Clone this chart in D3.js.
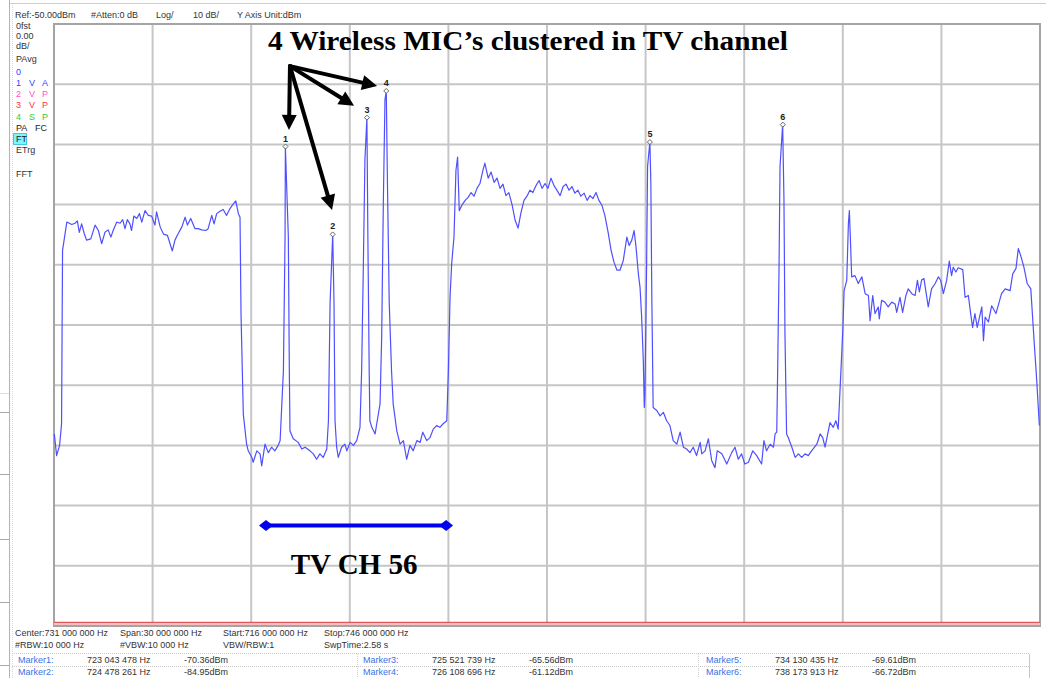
<!DOCTYPE html>
<html>
<head>
<meta charset="utf-8">
<script src="https://cdn.jsdelivr.net/npm/d3@7"></script>
<style>
body { margin: 0; background: #fff; }
svg { display: block; font-family: "Liberation Sans", Arial, sans-serif; }
</style>
</head>
<body>
<svg id="svg"></svg>
<script>
// trace: frequency (MHz) and level (dBm)
const freqMHz = [
	716.01, 716.08, 716.17, 716.23, 716.26, 716.39, 716.54, 716.64, 716.71, 716.77, 716.84, 716.92, 716.99, 717.12, 717.25, 717.35,
	717.45, 717.55, 717.65, 717.73, 717.80, 717.91, 718.01, 718.09, 718.16, 718.23, 718.31, 718.36, 718.43, 718.52, 718.60, 718.67,
	718.77, 718.87, 718.97, 719.07, 719.12, 719.23, 719.33, 719.45, 719.60, 719.68, 719.78, 719.89, 719.99, 720.06, 720.16, 720.29,
	720.39, 720.49, 720.62, 720.69, 720.80, 720.87, 720.95, 721.05, 721.15, 721.25, 721.35, 721.44, 721.53, 721.61, 721.66, 721.69,
	721.76, 721.86, 721.91, 722.02, 722.06, 722.17, 722.27, 722.32, 722.42, 722.52, 722.62, 722.72, 722.82, 722.88, 722.98, 723.03,
	723.04, 723.13, 723.16, 723.18, 723.28, 723.43, 723.54, 723.64, 723.79, 723.89, 723.99, 724.09, 724.19, 724.30, 724.35, 724.40,
	724.48, 724.52, 724.55, 724.60, 724.65, 724.75, 724.85, 724.91, 725.01, 725.11, 725.21, 725.31, 725.36, 725.41, 725.46, 725.52,
	725.55, 725.59, 725.61, 725.67, 725.77, 725.82, 725.92, 725.97, 726.02, 726.07, 726.11, 726.14, 726.20, 726.27, 726.32, 726.43,
	726.53, 726.63, 726.73, 726.83, 726.93, 727.04, 727.14, 727.22, 727.34, 727.44, 727.54, 727.64, 727.74, 727.84, 727.95, 728.00,
	728.05, 728.10, 728.17, 728.23, 728.28, 728.33, 728.41, 728.51, 728.60, 728.69, 728.78, 728.87, 728.96, 729.05, 729.11, 729.21,
	729.30, 729.39, 729.48, 729.57, 729.66, 729.75, 729.84, 729.94, 730.03, 730.12, 730.21, 730.30, 730.39, 730.48, 730.57, 730.67,
	730.76, 730.85, 730.94, 731.03, 731.12, 731.21, 731.30, 731.40, 731.49, 731.58, 731.67, 731.76, 731.85, 731.94, 732.03, 732.13,
	732.22, 732.31, 732.40, 732.49, 732.58, 732.67, 732.76, 732.86, 732.95, 733.04, 733.13, 733.22, 733.32, 733.43, 733.50, 733.58,
	733.65, 733.71, 733.78, 733.83, 733.88, 733.93, 733.96, 733.98, 734.03, 734.06, 734.13, 734.16, 734.19, 734.23, 734.34, 734.44,
	734.54, 734.64, 734.74, 734.84, 734.95, 735.05, 735.15, 735.25, 735.35, 735.45, 735.55, 735.66, 735.71, 735.81, 735.91, 736.01,
	736.11, 736.18, 736.32, 736.47, 736.62, 736.72, 736.82, 736.92, 737.02, 737.13, 737.26, 737.38, 737.53, 737.60, 737.68, 737.79,
	737.89, 737.94, 737.99, 738.02, 738.06, 738.09, 738.17, 738.21, 738.24, 738.29, 738.34, 738.45, 738.55, 738.65, 738.75, 738.85,
	738.95, 739.05, 739.21, 739.31, 739.39, 739.46, 739.61, 739.71, 739.79, 739.86, 739.92, 740.00, 740.04, 740.12, 740.17, 740.20,
	740.24, 740.27, 740.37, 740.47, 740.58, 740.68, 740.78, 740.83, 740.91, 740.98, 741.08, 741.11, 741.18, 741.28, 741.38, 741.49,
	741.59, 741.64, 741.74, 741.82, 741.92, 741.99, 742.10, 742.20, 742.27, 742.33, 742.40, 742.47, 742.53, 742.60, 742.70, 742.81,
	742.91, 742.98, 743.06, 743.16, 743.24, 743.31, 743.36, 743.44, 743.51, 743.65, 743.72, 743.82, 743.89, 743.95, 744.02, 744.09,
	744.23, 744.28, 744.33, 744.43, 744.53, 744.66, 744.83, 744.94, 745.09, 745.17, 745.27, 745.34, 745.42, 745.51, 745.61, 745.72,
	745.80, 745.90, 745.98
]
const levelDbm = [
	-118.1, -121.7, -120.0, -116.4, -87.6, -82.9, -83.3, -83.1, -82.7, -84.6, -83.2, -84.8, -85.9, -85.7, -83.4, -84.3,
	-86.5, -84.6, -84.2, -85.4, -84.3, -82.9, -83.1, -82.5, -84.0, -82.5, -83.2, -84.3, -81.9, -82.3, -81.5, -82.9,
	-81.0, -81.8, -81.9, -83.4, -81.2, -83.7, -84.9, -85.1, -87.7, -85.9, -84.8, -83.7, -82.1, -83.4, -82.3, -84.0,
	-84.0, -84.2, -84.3, -84.0, -81.8, -83.2, -81.5, -81.1, -80.8, -81.8, -80.7, -80.0, -79.4, -81.5, -82.1, -98.1,
	-114.8, -119.8, -120.9, -122.0, -122.8, -120.9, -121.4, -123.4, -119.8, -121.2, -120.3, -120.9, -120.0, -119.2, -107.6, -85.4,
	-70.36, -85.4, -107.6, -117.6, -118.9, -119.5, -120.6, -120.3, -120.9, -121.4, -122.3, -121.4, -122.0, -120.6, -115.9, -96.4,
	-84.95, -96.4, -115.9, -120.3, -122.0, -120.3, -119.8, -120.9, -119.5, -120.0, -119.2, -117.0, -107.6, -90.9, -72.6, -65.56,
	-85.4, -107.6, -115.9, -117.0, -118.1, -116.4, -113.1, -102.0, -79.8, -62.6, -61.12, -74.3, -96.4, -107.6, -113.1, -117.6,
	-119.8, -119.2, -122.3, -120.0, -120.9, -119.2, -119.5, -117.8, -119.2, -118.7, -117.3, -116.7, -117.0, -116.4, -115.9, -107.6,
	-95.4, -89.8, -85.4, -74.3, -72.1, -81.0, -80.1, -79.3, -78.8, -78.0, -78.6, -77.3, -76.5, -74.3, -73.1, -75.6,
	-74.6, -76.3, -75.6, -77.3, -76.6, -78.5, -78.0, -80.1, -82.6, -83.9, -81.3, -79.3, -78.6, -77.6, -78.0, -76.8,
	-76.0, -77.3, -76.5, -77.3, -75.6, -76.8, -77.6, -78.5, -77.0, -76.6, -77.6, -77.0, -78.1, -77.6, -78.6, -78.1,
	-79.3, -78.5, -79.0, -78.0, -79.3, -80.1, -81.8, -84.6, -87.6, -89.6, -90.9, -90.9, -89.3, -85.4, -86.8, -85.9,
	-84.3, -87.1, -91.5, -93.7, -98.7, -105.9, -113.7, -111.4, -90.4, -73.7, -69.61, -76.5, -95.9, -113.7, -114.2, -115.1,
	-114.5, -115.9, -116.7, -119.2, -119.8, -117.8, -120.3, -120.6, -121.2, -120.3, -121.7, -119.5, -121.4, -120.9, -118.9, -122.5,
	-123.7, -120.9, -121.4, -123.1, -121.2, -120.3, -122.3, -121.4, -123.1, -122.8, -120.9, -121.7, -123.1, -119.2, -120.9, -119.8,
	-120.3, -118.1, -117.8, -107.0, -90.4, -73.7, -66.72, -79.3, -101.4, -118.1, -118.7, -120.3, -122.0, -121.4, -122.0, -121.4,
	-121.7, -120.9, -119.8, -118.1, -118.7, -120.3, -116.2, -117.0, -115.9, -117.3, -110.3, -100.9, -94.3, -92.6, -83.2, -81.0,
	-87.1, -92.0, -91.8, -93.1, -92.0, -94.8, -95.1, -99.3, -95.1, -98.1, -97.0, -99.0, -95.9, -96.2, -97.0, -96.2,
	-96.5, -97.9, -95.4, -97.9, -95.1, -94.0, -94.8, -95.1, -92.6, -94.5, -92.5, -92.3, -94.5, -97.0, -94.0, -93.1,
	-92.0, -92.6, -94.8, -92.6, -89.4, -91.8, -90.4, -91.2, -90.5, -90.8, -95.4, -95.1, -98.1, -100.4, -98.1, -100.4,
	-97.0, -102.6, -98.7, -99.5, -96.8, -98.1, -94.8, -94.0, -94.3, -91.5, -90.6, -87.3, -88.6, -90.4, -93.1, -94.0,
	-100.9, -109.2, -116.7
]

const markerNames = ['1', '2', '3', '4', '5', '6']
const markerHz = [723043478, 724478261, 725521739, 726108696, 734130435, 738173913]
const markerDbm = [-70.36, -84.95, -65.56, -61.12, -69.61, -66.72]

const gridMHz = [719, 722, 725, 728, 731, 734, 737, 740, 743]
const gridDbm = [-60, -70, -80, -90, -100, -110, -120, -130, -140]

const headerItems = ['Ref:-50.00dBm', '#Atten:0 dB', 'Log/', '10 dB/', 'Y Axis Unit:dBm']
const infoRow1 = ['Center:731 000 000 Hz', 'Span:30 000 000 Hz', 'Start:716 000 000 Hz', 'Stop:746 000 000 Hz']
const infoRow2 = ['#RBW:10 000 Hz', '#VBW:10 000 Hz', 'VBW/RBW:1', 'SwpTime:2.58 s']
const sideRows = [['0fst'], ['0.00'], ['dB/'], ['PAvg'], ['0'], ['1', 'V', 'A'], ['2', 'V', 'P'], ['3', 'V', 'P'], ['4', 'S', 'P'], ['PA', 'FC'], ['FT'], ['ETrg'], ['FFT']]
const sideColors = ['#333', '#333', '#333', '#333', '#3344ff', '#3344ff', '#ff55cc', '#ff3344', '#33cc33', '#222', '#222', '#333', '#333']

// annotations (in chart units)
const titleText = '4 Wireless MIC\u2019s clustered in TV channel'
const arrowFromMHz = 723.18, arrowFromDbm = -57.0
const arrowToMHz = [723.15, 724.46, 725.13, 725.83]
const arrowToDbm = [-67.6, -80.9, -63.6, -60.3]
const tvChMHz = [722.45, 727.93]
const tvChDbm = -133.3
const tvChLabel = 'TV CH 56'

const doIt = () => {
	let w = 1049
	let h = 678

	let svg = d3.select('#svg').attr('width', w).attr('height', h)

	let x = d3.scaleLinear().domain([716, 746]).range([54, 1040])
	let y = d3.scaleLinear().domain([-50, -150]).range([24, 626])

	// window chrome
	svg.append('line').attr('x1', 9.5).attr('x2', 9.5).attr('y1', 0).attr('y2', h).attr('stroke', '#b4b4b4')
	svg.append('line').attr('x1', 12.5).attr('x2', 12.5).attr('y1', 3).attr('y2', h).attr('stroke', '#d8d8d8').attr('stroke-dasharray', '1,1')
	svg.append('line').attr('x1', 10).attr('x2', 1046).attr('y1', 3.5).attr('y2', 3.5).attr('stroke', '#cfcfcf')
	;[393, 412, 474, 539, 602, 665].forEach(yy => {
		svg.append('line').attr('x1', 0).attr('x2', 9).attr('y1', yy + 0.5).attr('y2', yy + 0.5).attr('stroke', yy === 393 ? '#dcdcdc' : '#a8a8a8')
	})

	// header
	svg.append('g').selectAll('text').data(headerItems).enter().append('text')
		.attr('x', (d, i) => [15, 91, 156, 193, 237][i]).attr('y', 18)
		.attr('font-size', 9).attr('fill', '#333').text(d => d)

	// sidebar
	let sideY = [29, 39, 49, 62, 75, 86, 97, 108, 120, 131, 142, 153, 177]
	let sideX = [16, 29, 42]
	svg.append('rect').attr('x', 13.5).attr('y', sideY[10] - 8.5).attr('width', 13).attr('height', 11)
		.attr('fill', '#7ff4ff').attr('stroke', '#44c8dd')
	sideRows.forEach((row, i) => {
		row.forEach((t, j) => {
			svg.append('text').attr('x', row.length === 2 ? [16, 35][j] : sideX[j]).attr('y', sideY[i])
				.attr('font-size', 9).attr('fill', sideColors[i]).text(t)
		})
	})

	// grid + frame
	let grid = svg.append('g')
	grid.selectAll('.gx').data(gridMHz).enter().append('line')
		.attr('x1', d => x(d)).attr('x2', d => x(d)).attr('y1', y(-50)).attr('y2', y(-150))
		.attr('stroke', '#c6c6c6').attr('stroke-width', 2)
	grid.selectAll('.gy').data(gridDbm).enter().append('line')
		.attr('x1', x(716)).attr('x2', x(746)).attr('y1', d => y(d)).attr('y2', d => y(d))
		.attr('stroke', '#c6c6c6').attr('stroke-width', 2)
	svg.append('rect').attr('x', x(716)).attr('y', y(-50)).attr('width', x(746) - x(716)).attr('height', y(-150) - y(-50))
		.attr('fill', 'none').attr('stroke', '#a4a4a4').attr('stroke-width', 2)

	// red limit line near bottom
	svg.append('line').attr('x1', x(716)).attr('x2', x(746)).attr('y1', y(-149.4) + 1.5).attr('y2', y(-149.4) + 1.5)
		.attr('stroke', '#f6c0c0').attr('stroke-width', 2)
	svg.append('line').attr('x1', x(716)).attr('x2', x(746)).attr('y1', y(-149.4)).attr('y2', y(-149.4))
		.attr('stroke', '#e05a5a').attr('stroke-width', 1.2)

	// trace
	let pts = freqMHz.map((f, i) => [f, levelDbm[i]])
	let lineMkr = d3.line().x(d => x(d[0])).y(d => y(d[1]))
	svg.append('path').datum(pts).attr('d', lineMkr)
		.attr('fill', 'none').attr('stroke', '#4f4fff').attr('stroke-width', 1.2).attr('stroke-linejoin', 'round')

	// markers
	let mk = svg.append('g').selectAll('g').data(markerNames).enter().append('g')
		.attr('transform', (d, i) => `translate(${x(markerHz[i] / 1e6)},${y(markerDbm[i])})`)
	mk.append('path').attr('d', 'M0,-2.5L2.5,0L0,2.5L-2.5,0Z').attr('fill', '#fff').attr('stroke', '#555').attr('stroke-width', 0.9)
	mk.append('text').attr('y', -5).attr('text-anchor', 'middle').attr('font-size', 9).attr('font-weight', 'bold')
		.attr('fill', '#222').text(d => d)

	// title
	svg.append('text').attr('x', 268).attr('y', 50)
		.attr('font-family', '"Liberation Serif", "Times New Roman", serif').attr('font-weight', 'bold')
		.attr('font-size', 28).attr('textLength', 520).attr('lengthAdjust', 'spacingAndGlyphs')
		.attr('fill', '#000').text(titleText)

	// black arrows to the mics
	let ax = x(arrowFromMHz), ay = y(arrowFromDbm)
	arrowToMHz.forEach((f, i) => {
		let tx = x(f), ty = y(arrowToDbm[i])
		let dx = tx - ax, dy = ty - ay, len = Math.hypot(dx, dy)
		let ux = dx / len, uy = dy / len
		let hl = 15, hw = 7.5
		let bx = tx - ux * hl, by = ty - uy * hl
		svg.append('line').attr('x1', ax).attr('y1', ay).attr('x2', bx + ux * 1).attr('y2', by + uy * 1)
			.attr('stroke', '#000').attr('stroke-width', 4).attr('stroke-linecap', 'round')
		svg.append('path')
			.attr('d', `M${tx},${ty}L${bx - uy * hw},${by + ux * hw}L${bx + uy * hw},${by - ux * hw}Z`)
			.attr('fill', '#000')
	})

	// TV channel span
	let x1 = x(tvChMHz[0]), x2 = x(tvChMHz[1]), yy = y(tvChDbm)
	svg.append('line').attr('x1', x1).attr('x2', x2).attr('y1', yy).attr('y2', yy).attr('stroke', '#0000f0').attr('stroke-width', 4)
	;[x1, x2].forEach(cx => {
		svg.append('path').attr('d', `M${cx - 7},${yy}L${cx},${yy - 5.5}L${cx + 7},${yy}L${cx},${yy + 5.5}Z`).attr('fill', '#0000f0')
	})
	svg.append('text').attr('x', (x1 + x2) / 2 - 2).attr('y', y(-141.3))
		.attr('text-anchor', 'middle')
		.attr('font-family', '"Liberation Serif", "Times New Roman", serif').attr('font-weight', 'bold')
		.attr('font-size', 29).attr('fill', '#000').text(tvChLabel)

	// sweep info
	let infoX = [15, 120, 223, 324]
	;[infoRow1, infoRow2].forEach((row, r) => {
		svg.append('g').selectAll('text').data(row).enter().append('text')
			.attr('x', (d, i) => infoX[i]).attr('y', 636 + r * 12)
			.attr('font-size', 9).attr('fill', '#333').text(d => d)
	})

	// marker table
	let tb = svg.append('g')
	tb.append('line').attr('x1', 12).attr('x2', 1030).attr('y1', 653.5).attr('y2', 653.5).attr('stroke', '#c8c8c8').attr('stroke-dasharray', '1,1')
	tb.append('line').attr('x1', 12).attr('x2', 1030).attr('y1', 666.5).attr('y2', 666.5).attr('stroke', '#c8c8c8').attr('stroke-dasharray', '1,1')
	;[357.5, 698.5].forEach(vx => {
		tb.append('line').attr('x1', vx).attr('x2', vx).attr('y1', 654).attr('y2', h).attr('stroke', '#d0d0d0').attr('stroke-dasharray', '1,1')
	})
	tb.append('line').attr('x1', 1029.5).attr('x2', 1029.5).attr('y1', 654).attr('y2', h).attr('stroke', '#c8c8c8')
	let fmtHz = d => d3.format(',')(d).replace(/,/g, ' ') + ' Hz'
	markerNames.forEach((m, i) => {
		let gx = [18, 363, 706][Math.floor(i / 2)]
		let ty = 663 + (i % 2) * 12
		tb.append('text').attr('x', gx).attr('y', ty).attr('font-size', 9).attr('fill', '#3b6fe6').text('Marker' + m + ':')
		tb.append('text').attr('x', gx + 69).attr('y', ty).attr('font-size', 9).attr('fill', '#333').text(fmtHz(markerHz[i]))
		tb.append('text').attr('x', gx + 166).attr('y', ty).attr('font-size', 9).attr('fill', '#333').text(markerDbm[i].toFixed(2) + 'dBm')
	})
}

doIt()
</script>
</body>
</html>
